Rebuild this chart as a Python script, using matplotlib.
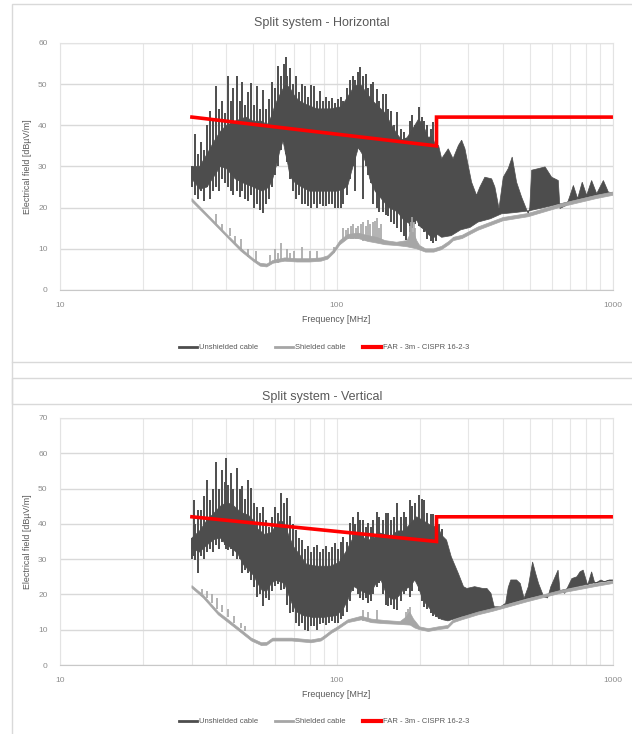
import numpy as np
import matplotlib.pyplot as plt
from matplotlib.patches import Rectangle
from matplotlib.lines import Line2D
from matplotlib.ticker import FixedLocator, NullFormatter

plt.rcParams['font.family'] = ['Liberation Sans', 'DejaVu Sans']

# ---- values: frequency in MHz, level in dBuV/m ----

# Horizontal - unshielded: solid body (top edge, bottom edge) + single swings (f, low, high)
hor_core_top = [(30, 30), (32, 30), (34, 33), (36, 36), (38, 38.5), (40, 40), (43, 41), (47, 42), (50, 41),
                (54, 41), (56, 40), (58, 42), (60, 45), (63, 48), (65.5, 50), (68, 49), (70, 47.5), (73, 46),
                (78, 45), (85, 44), (95, 44), (104, 44.5), (110, 47), (116, 49.5), (122, 50), (128, 48),
                (135, 46), (142, 44.5), (150, 43), (157, 40.5), (165, 38), (172, 36.5), (180, 37),
                (190, 39.5), (198, 41.5), (206, 40), (215, 37), (222, 37.5), (228, 35), (234, 35.1),
                (240, 31.9), (253.6, 34.3), (264, 31.9), (276, 35.1), (283.6, 36.4), (291.5, 34.3),
                (300, 30), (308, 26.2), (321, 23), (330, 25), (344, 27.4), (364, 27), (374, 25), (387, 19.8),
                (401, 27.4), (418, 29.5), (432, 32.3), (448, 26.2), (467, 22.6), (494, 18.5), (500, 20),
                (508, 29.1), (538, 29.5), (568, 29.9), (600, 27.4), (634, 26.6), (643, 19.8), (680, 20.6),
                (700, 23), (719, 25.4), (745, 22.2), (774, 26.2), (803, 23), (837, 26.6), (873, 23.4),
                (923, 26.6), (962, 23.8), (1000, 23.6)]
hor_core_bot = [(30, 27), (32, 24.5), (34, 25), (36, 27.5), (38, 30), (40, 29.5), (43, 27), (46, 26), (50, 25),
                (54, 24), (57, 25), (58.8, 27), (60.5, 30), (62.5, 34), (64.1, 36.2), (65.5, 33), (66.4, 31.3),
                (68, 27.5), (71, 26), (75, 25), (80, 24), (90, 24), (100, 24), (106, 24.5), (110, 25.5),
                (113.5, 28.9), (117, 32), (120, 34.6), (124, 33), (128.5, 30.5), (132, 27), (138, 24),
                (146, 22), (155, 20), (166, 19), (175, 17), (185, 16), (190, 16.5), (195, 17), (200, 15.5),
                (208, 14.6), (215, 13.5), (223, 12.5), (232, 13.5), (240, 12.8), (250, 13), (260, 13.2),
                (281, 14.6), (304, 15.2), (325, 16.5), (360, 17.3), (395, 18.5), (440, 18.8), (494, 19.2),
                (560, 20), (652, 21), (750, 22), (870, 23), (1000, 23.6)]
hor_swings = [(30.0, 25, 30), (30.8, 23, 38), (31.5, 22, 33), (32.3, 24, 36), (33.1, 21.5, 34), (33.9, 25, 40),
              (34.8, 22, 43.5), (35.7, 24, 41), (36.6, 25, 49.6), (37.5, 24, 44), (38.4, 27, 46), (39.4, 26, 43),
              (40.4, 25, 52), (41.4, 24, 46), (42.4, 23, 49), (43.5, 24, 52), (44.6, 22.5, 46), (45.7, 24, 50.5),
              (46.8, 22, 45), (48.0, 21.5, 48), (49.2, 23, 50.4), (50.5, 20, 45), (51.7, 21, 49.6),
              (53.0, 19.5, 44), (54.4, 18.7, 48.5), (55.8, 21, 44), (57.2, 22, 46.5), (58.6, 25, 50.5),
              (60.1, 28, 49), (61.6, 30, 54.5), (63.1, 34, 52), (64.7, 36, 55), (65.6, 33, 56.7),
              (66.4, 31, 52), (68.0, 27, 54), (69.8, 24, 50), (71.5, 22, 52), (73.3, 23, 48), (75.2, 21, 50),
              (77.1, 21, 49.5), (79.0, 20.5, 47), (81.0, 20, 49.8), (83.0, 21, 49.6), (85.1, 19.9, 46),
              (87.3, 21, 48.4), (89.5, 20.5, 46), (91.7, 20.3, 47), (94.0, 21, 46), (96.4, 21, 46.7),
              (98.8, 20, 45.5), (101, 20, 46.5), (104, 19.9, 47), (106, 21, 46), (109, 23, 49), (112, 27, 51),
              (115, 30, 52), (117, 24, 51), (120, 34.6, 53), (122, 34, 54.2), (125, 22, 52), (128, 30, 52.4),
              (130, 28, 49), (133, 26, 50), (136, 21, 50.5), (140, 20, 48.8), (143, 19, 46), (147, 19, 47.5),
              (151, 18.3, 47.6), (154, 18, 44), (158, 16.5, 43.5), (162, 16, 40), (166, 15, 43.2), (171, 14, 39),
              (175, 13, 38.4), (179, 12.1, 37), (184, 14, 41), (188, 15, 42.4), (193, 16, 40), (198, 15.5, 44.5),
              (203, 15, 42), (208, 14, 41), (213, 12.5, 40), (219, 12, 39.2), (224, 11.5, 40.8), (229, 12, 36)]
# Horizontal - shielded: thin band + spikes (f, low, high)
hor_sh_top = [(30, 22.2), (35, 17.6), (40, 13.6), (45, 10.2), (50, 7.6), (53, 6.5), (56, 6.3), (59, 7.2),
              (65, 7.8), (72, 7.6), (80, 7.6), (88, 7.8), (93, 8.3), (98, 9.8), (103, 12), (110, 13.5),
              (120, 13.8), (130, 13.2), (140, 12.8), (150, 12), (165, 11.6), (180, 12), (186, 14), (190, 14),
              (195, 12), (200, 10.8), (210, 10), (225, 10), (240, 10.6), (255, 11.8), (265, 12.8), (285, 13.3),
              (325, 15.3), (400, 17.6), (494, 18.6), (652, 21), (870, 23), (1000, 23.8)]
hor_sh_bot = [(30, 21.5), (35, 17), (40, 13), (45, 9.5), (50, 7), (53, 5.8), (56, 5.6), (59, 6.5), (65, 7),
              (72, 6.8), (80, 6.8), (88, 7), (93, 7.5), (98, 9), (103, 11), (110, 12.5), (120, 12.5),
              (130, 11.8), (140, 11.4), (150, 11), (165, 10.8), (180, 10.5), (195, 10), (210, 9.2), (225, 9.2),
              (240, 9.8), (255, 11), (265, 12), (285, 12.5), (325, 14.5), (400, 16.8), (494, 17.8),
              (652, 20.2), (870, 22.2), (1000, 23)]
hor_sh_spikes = [(36.8, 16, 18.5), (38.5, 14.5, 16), (41.2, 13, 15), (43, 11.5, 13), (45.2, 10, 12.5),
                 (48, 8, 10), (51.2, 7, 9.5), (57.5, 6.5, 8.5), (60, 6.5, 10), (61.5, 6.5, 9), (63, 7, 11.5),
                 (66, 7, 10), (68, 7, 9), (70, 7, 9.5), (75, 7, 10.5), (80, 7, 9.5), (85, 7, 9.5),
                 (98, 9, 10.5), (106, 12, 15), (108, 12.5, 14.5), (110, 12.5, 15), (112.5, 12.5, 15.5),
                 (115, 12.5, 16), (117.5, 12.5, 15), (120, 12.5, 15.5), (122.5, 12.3, 16), (125, 12, 16.5),
                 (127.5, 12, 15.5), (130, 12, 17), (132.5, 11.8, 16), (135, 11.8, 16.5), (137.5, 11.6, 16.8),
                 (140, 11.5, 17.5), (142.5, 11.4, 15), (145, 11.3, 16),
                 (184, 11, 15.5), (186, 11, 16.5), (188, 11, 17.8), (190, 11, 16.5), (192, 10.5, 15)]

# Vertical - unshielded
ver_core_top = [(30, 36), (32, 38), (34, 41), (36, 43), (38, 45), (40, 46), (42, 45.5), (44, 44), (46, 43),
                (48, 42.5), (50, 41), (52, 38.5), (55, 37), (58, 37.5), (61, 40), (63, 41), (65, 40), (67, 37),
                (70, 33.5), (74, 31), (78, 28.5), (85, 28), (95, 28), (102, 29), (108, 32), (113, 35),
                (118, 37.5), (122, 37), (128, 35.5), (135, 35.5), (142, 37.5), (150, 37), (158, 36.5),
                (166, 38), (175, 38), (185, 40), (195, 42), (205, 41), (215, 40), (225, 39), (230, 40),
                (240, 36.8), (250, 35.4), (260, 30.7), (276, 25.9), (288, 22.2), (296, 21.7), (316, 22.2),
                (338, 21.7), (350, 21.7), (362, 20.3), (372, 16.5), (392, 16.5), (409, 17.5), (418, 22),
                (427, 24.1), (448, 24.1), (462, 23.1), (477, 18.9), (494, 22.2), (512, 29.2), (525, 26),
                (538, 23.1), (562, 19.3), (580, 19), (596, 22.2), (633, 26.9), (643, 21.2), (669, 20.3),
                (710, 24.5), (740, 25), (760, 26.4), (780, 26.9), (810, 22.6), (837, 26.4), (860, 23.1),
                (905, 24.1), (930, 23.6), (970, 24.1), (1000, 24.1)]
ver_core_bot = [(30, 33), (32, 32), (34, 34), (36, 35.5), (38, 36), (40, 34), (42, 33), (44, 31.5), (46, 28.5),
                (48, 27), (50, 25.5), (52, 23), (54, 21), (56, 21), (58, 23), (60, 24), (63, 23.5), (65, 23),
                (67, 20), (69, 17.5), (72, 15), (76, 14), (82, 13.5), (90, 13.5), (100, 14), (106, 16),
                (110, 18.5), (115, 22.3), (120, 21.5), (126, 20.5), (132, 20), (140, 23.5), (145, 24), (150, 21),
                (156, 19), (162, 18.5), (168, 19.5), (175, 21.5), (184, 22), (192, 24.1), (198, 22), (204, 19),
                (210, 17.5), (220, 15.5), (230, 13.8), (240, 12.9), (253, 12.5), (265, 13), (284, 13.7),
                (325, 14.6), (367, 15.6), (427, 17.5), (494, 18.9), (568, 19.8), (652, 21.2), (750, 22.3),
                (860, 23.3), (1000, 24)]
ver_swings = [(30.0, 30, 36), (30.4, 31, 46.8), (30.8, 29.8, 40), (31.5, 26, 44), (32.3, 31, 44), (33.1, 30, 48),
              (33.9, 32, 52.5), (34.8, 33, 46.8), (35.7, 32, 50), (36.6, 34, 57.6), (37.5, 33, 50),
              (38.4, 35, 55.3), (39.4, 34, 52), (39.8, 33, 58.6), (40.4, 32.6, 51), (41.4, 33, 54.3),
              (42.4, 31, 50), (43.5, 30, 55.8), (44.6, 30, 50), (45.7, 26, 50.6), (46.8, 27, 47),
              (48.0, 26, 52.5), (49.2, 24.2, 50.1), (50.5, 22, 46), (51.7, 19.4, 44.9), (53.0, 20, 43),
              (54.4, 16.6, 44.9), (55.8, 19, 41), (57.2, 18.5, 39.2), (58.6, 21, 42), (60.1, 22.3, 44.9),
              (61.6, 23, 43), (63.1, 21.3, 48.7), (64.7, 21.5, 46), (66.4, 17, 47.3), (68.0, 14.7, 42.1),
              (69.8, 15, 40), (71.5, 12, 38.3), (73.3, 11, 36), (75.2, 12, 35.5), (77.1, 10, 33),
              (79.0, 9.5, 33.6), (81.0, 11, 32), (83.0, 11, 33.5), (85.1, 10, 34), (87.3, 11.5, 32),
              (89.5, 12, 33), (91.7, 11.4, 33.6), (94.0, 12, 32), (96.4, 12.5, 33.5), (98.8, 11.9, 34.5),
              (101, 12, 33), (104, 13, 35), (106, 14, 36.4), (109, 15, 35), (112, 18, 40.2), (115, 21, 42),
              (117, 22.3, 40), (120, 20, 43.5), (122, 19, 41), (125, 18.5, 41.1), (128, 19, 39),
              (130, 17.5, 40.2), (133, 18, 39), (136, 20, 41), (140, 22, 43.5), (143, 23.2, 42), (147, 20, 41),
              (151, 17, 43), (154, 16.6, 43), (158, 17, 41), (162, 16, 42), (166, 15.7, 45.8), (171, 18, 42),
              (175, 20, 43.4), (179, 21, 42), (184, 19.3, 46.7), (188, 21, 45), (193, 24.1, 46),
              (198, 21, 48.1), (203, 18, 47), (208, 16.5, 46.7), (213, 16, 43), (219, 14.6, 42.9),
              (224, 14, 42.9), (229, 13.5, 42), (235, 13, 40), (241, 13, 38.5)]
# Vertical - shielded
ver_sh_top = [(30, 22.5), (33, 19.8), (37.4, 15), (43, 11.3), (49.3, 7.6), (53.6, 6.3), (56, 6.4), (58.8, 7.6),
              (69, 7.6), (81, 7.1), (88, 7.6), (91, 8.4), (96, 9.8), (100, 10.6), (110, 12.8), (123, 13.8),
              (134, 13), (150, 12.6), (170, 12.3), (178, 13.5), (184, 15), (190, 13), (200, 10.8), (215, 10.3),
              (233, 10.8), (253, 11.2), (265, 12.8), (284, 13.6), (325, 15), (367, 16), (494, 18.8),
              (652, 21.2), (860, 23), (1000, 23.8)]
ver_sh_bot = [(30, 21.8), (33, 19), (37.4, 14.2), (43, 10.5), (49.3, 6.8), (53.6, 5.5), (56, 5.6), (58.8, 6.8),
              (69, 6.8), (81, 6.3), (88, 6.8), (91, 7.6), (96, 9), (100, 9.8), (110, 12), (123, 12.8), (134, 12),
              (150, 11.7), (170, 11.5), (185, 11.3), (192, 10.5), (200, 10), (215, 9.5), (233, 10), (253, 10.4),
              (265, 12), (284, 12.8), (325, 14.2), (367, 15.2), (494, 18), (652, 20.4), (860, 22.2), (1000, 23.1)]
ver_sh_spikes = [(32.5, 20, 21.5), (34, 19, 21), (35.5, 17.5, 20), (37, 16, 19), (38.5, 15, 17),
                 (40.5, 13.5, 16), (42.5, 12, 14), (45, 10.5, 11.8), (46.5, 9.5, 11), (125, 12.5, 15.5),
                 (130, 12.5, 15), (140, 12, 15.5), (178, 12, 15), (182, 12, 16), (184, 12, 16.5)]

# FAR - 3m - CISPR 16-2-3 limit
limit_f = [30, 230, 230, 1000]
limit_v = [42, 35, 42, 42]

series_names = ['Unshielded cable', 'Shielded cable', 'FAR - 3m - CISPR 16-2-3']
titles = ['Split system - Horizontal', 'Split system - Vertical']
y_max = [60, 70]

DARK = '#4d4d4d'
LIGHT = '#a6a6a6'
RED = '#ff0000'

W, H = 632, 734
fig = plt.figure(figsize=(W / 100, H / 100), dpi=100)


def band(ax, top, bot, color):
    top = np.array(top)
    bot = np.array(bot)
    xs = np.concatenate([top[:, 0], bot[::-1, 0]])
    ys = np.concatenate([top[:, 1], bot[::-1, 1]])
    ax.fill(xs, ys, facecolor=color, edgecolor=color, lw=0.5)


def panel(box_top, ax_top, title, ymax, core, swings, sh, sh_spikes):
    # chart box (right and lower sides run off the picture)
    fig.add_artist(Rectangle((12 / W, 1 - (box_top + 400) / H), 700 / W, 400 / H,
                             transform=fig.transFigure, fill=False, ec='#d9d9d9', lw=1))
    ax = fig.add_axes([60 / W, 1 - (ax_top + 247) / H, 553 / W, 247 / H])

    band(ax, core[0], core[1], DARK)
    sw = np.array(swings)
    ax.vlines(sw[:, 0], sw[:, 1], sw[:, 2], colors=DARK, lw=1.4)
    band(ax, sh[0], sh[1], LIGHT)
    sp = np.array(sh_spikes)
    ax.vlines(sp[:, 0], sp[:, 1], sp[:, 2], colors=LIGHT, lw=1.2)
    ax.plot(limit_f, limit_v, color=RED, lw=2.6, solid_joinstyle='miter')

    ax.set_xscale('log')
    ax.set_xlim(10, 1000)
    ax.set_ylim(0, ymax)
    ax.set_yticks(np.arange(0, ymax + 1, 10))
    ax.xaxis.set_major_locator(FixedLocator([10, 100, 1000]))
    ax.xaxis.set_minor_locator(FixedLocator([20, 30, 40, 50, 60, 70, 80, 90,
                                             200, 300, 400, 500, 600, 700, 800, 900]))
    ax.xaxis.set_minor_formatter(NullFormatter())
    ax.set_xticklabels(['10', '100', '1000'])
    ax.tick_params(which='both', length=0, labelsize=6, colors='#8c8c8c')
    ax.tick_params(axis='x', pad=9)
    ax.tick_params(axis='y', pad=9)
    ax.grid(True, axis='y', color='#d9d9d9', lw=1)
    ax.grid(True, axis='x', which='both', color='#e6e6e6', lw=0.8)
    ax.set_axisbelow(True)
    for s in ax.spines.values():
        s.set_color('#e3e3e3')
    ax.spines['bottom'].set_color('#c8c8c8')

    ax.set_xlabel('Frequency [MHz]', fontsize=6.4, color='#595959')
    ax.xaxis.set_label_coords(0.5, -25 / 247)
    ax.set_ylabel('Electrical field [dBµV/m]', fontsize=6.4, color='#595959')
    ax.yaxis.set_label_coords(-28 / 553, 0.5)
    fig.text(322 / W, 1 - (box_top + 19) / H, title, ha='center', va='center',
             fontsize=9, color='#595959')

    handles = [Line2D([], [], color=DARK, lw=2),
               Line2D([], [], color=LIGHT, lw=2),
               Line2D([], [], color=RED, lw=3)]
    fig.legend(handles, series_names, loc='center', ncol=3, frameon=False,
               bbox_to_anchor=(324 / W, 1 - (box_top + 343.5) / H), fontsize=5.5,
               handlelength=2.4, handletextpad=0.25, columnspacing=2.2, labelcolor='#595959')
    return ax


panel(4, 43, titles[0], y_max[0], (hor_core_top, hor_core_bot), hor_swings,
      (hor_sh_top, hor_sh_bot), hor_sh_spikes)
panel(378, 418, titles[1], y_max[1], (ver_core_top, ver_core_bot), ver_swings,
      (ver_sh_top, ver_sh_bot), ver_sh_spikes)

# lower edge of the first box
fig.add_artist(Line2D([12 / W, 1], [1 - 362 / H, 1 - 362 / H], transform=fig.transFigure,
                      color='#d9d9d9', lw=1))

fig.savefig('out.png', dpi=100)
